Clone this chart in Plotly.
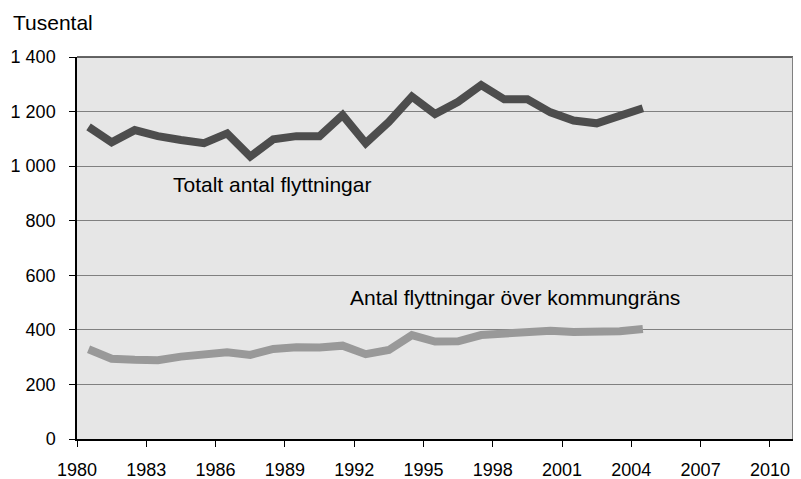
import plotly.graph_objects as go

years = list(range(1980, 2005))
totalt = [1144, 1087, 1132, 1110, 1096, 1084, 1120, 1035, 1098, 1110, 1110, 1187, 1084,
          1162, 1255, 1191, 1236, 1297, 1245, 1245, 1197, 1167, 1157, 1184, 1212]
kommun = [329, 294, 290, 289, 302, 311, 318, 308, 330, 336, 335, 342, 311,
          326, 381, 357, 358, 381, 384, 393, 397, 392, 391, 395, 403]
xticks = list(range(1980, 2011, 3))
yticks = [0, 200, 400, 600, 800, 1000, 1200, 1400]
ytick_text = ["0", "200", "400", "600", "800", "1 000", "1 200", "1 400"]

xpos = [y + 0.5 for y in years]
font = "Liberation Sans, Arial, sans-serif"

# page has an 8px body margin; compensate so the plot area lands at 77..793 x 57..439
L, R, T, B = 69, 8, 49, 40
W, H = 793, 471
pw, ph = W - L - R, H - T - B

fig = go.Figure()
fig.add_trace(go.Scatter(x=xpos, y=kommun, mode="lines",
                         line=dict(color="#999999", width=8), hoverinfo="skip"))
fig.add_trace(go.Scatter(x=xpos, y=totalt, mode="lines",
                         line=dict(color="#4d4d4d", width=8), hoverinfo="skip"))

fig.update_layout(
    width=W, height=H,
    margin=dict(l=L, r=R, t=T, b=B),
    paper_bgcolor="white", plot_bgcolor="#e6e6e6",
    showlegend=False,
    font=dict(family=font, size=18, color="black"),
    xaxis=dict(range=[1980, 2011], tickvals=xticks, ticktext=[str(t) for t in xticks],
               showgrid=False, zeroline=False, showline=True, linecolor="black", linewidth=1.5,
               ticks="outside", ticklen=6, tickcolor="black", tickfont=dict(size=18),
               ticklabelstandoff=8, automargin=False),
    yaxis=dict(range=[0, 1400], tickvals=yticks, ticktext=ytick_text,
               showgrid=True, gridcolor="#808080", gridwidth=1, zeroline=False,
               showline=True, linecolor="black", linewidth=1.5,
               ticks="outside", ticklen=6, tickcolor="black", tickfont=dict(size=18),
               ticklabelstandoff=10, automargin=False),
    annotations=[
        dict(text="Tusental", xref="paper", yref="paper", x=-(L - 3) / pw, y=1 + (T - 14) / ph,
             xanchor="left", yanchor="middle", showarrow=False, font=dict(size=21)),
        dict(text="Totalt antal flyttningar", xref="x", yref="y", x=1984.06, y=932,
             xanchor="left", yanchor="middle", showarrow=False, font=dict(size=21)),
        dict(text="Antal flyttningar över kommungräns", xref="x", yref="y", x=1991.72, y=520,
             xanchor="left", yanchor="middle", showarrow=False, font=dict(size=21)),
    ],
    shapes=[
        dict(type="line", xref="paper", yref="paper", x0=0, x1=1, y0=1, y1=1,
             line=dict(color="#333333", width=1.5)),
        dict(type="line", xref="paper", yref="paper", x0=1, x1=1, y0=0, y1=1,
             line=dict(color="#808080", width=2)),
    ],
)

fig.write_html("out.html")
